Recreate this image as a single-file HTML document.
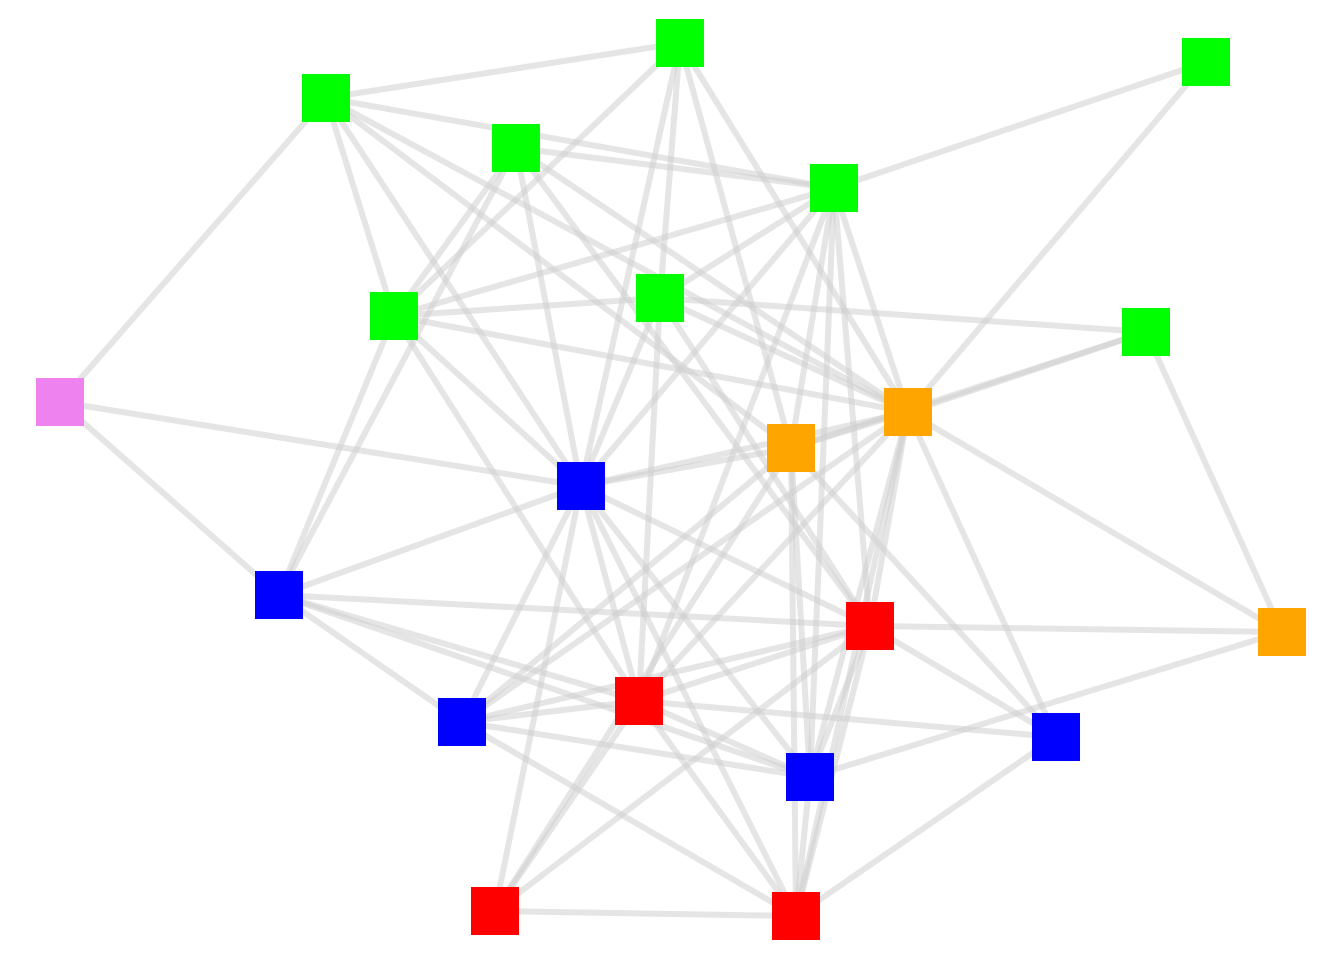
<!DOCTYPE html>
<html><head><meta charset="utf-8"><style>html,body{margin:0;padding:0;background:#fff}svg{display:block}</style></head>
<body>
<svg width="1344" height="960" viewBox="0 0 1344 960" xmlns="http://www.w3.org/2000/svg">
<g stroke="#cfcfcf" stroke-opacity="0.55" stroke-width="6" stroke-linecap="round" id="edges"></g>
<g id="nodes"></g>
<script>
var N={G1:[326,98],G2:[680,43],G3:[1206,62],G4:[516,148],G5:[834,188],G6:[394,316],G7:[660,298],G8:[1146,332],
P:[60,402],O1:[908,412],O2:[791,448],O3:[1282,632],B1:[581,486],B2:[279,595],B3:[462,722],B4:[810,777],B5:[1056,737],
R1:[870,626],R2:[639,701],R3:[495,911],R4:[796,916]};
var C={G:"#00ff00",P:"#ee82ee",O:"#ffa500",B:"#0000ff",R:"#ff0000"};
var E="G1-G2 G1-G5 G1-G6 G1-P G1-B1 G1-O2 G1-O1 G2-G6 G2-G7 G2-B1 G2-O2 G2-O1 G3-G5 G3-O1 G4-G5 G4-G6 G4-B1 G4-O1 G4-R1 G4-B2 G5-G6 G5-G7 G5-B1 G5-O1 G5-O2 G5-R1 G5-B4 G5-R2 G6-G7 G6-O1 G6-B2 G6-B1 G6-R2 G7-G8 G7-O1 G7-B1 G7-R1 G7-R2 G8-O1 G8-O2 G8-O3 P-B1 P-B2 O1-O2 O1-B1 O1-O3 O1-R1 O1-B5 O1-B3 O1-R2 O1-R4 O1-B4 O2-B1 O2-B3 O2-R3 O2-R4 O2-B4 O2-B5 B1-B2 B1-B3 B1-R2 B1-R1 B1-B4 B1-R4 B2-R1 B2-B3 B2-R2 B2-B4 B3-R2 B3-B4 B3-R4 B3-R1 B4-R2 B4-R1 B4-R4 B4-O3 R1-O3 R1-R2 R1-B5 R1-R4 R1-R3 R2-R3 R2-R4 R2-B5 R3-R4 R4-B5 R3-B1".split(" ");
var ns="http://www.w3.org/2000/svg",eg=document.getElementById("edges"),ng=document.getElementById("nodes");
E.forEach(function(e){var p=e.split("-"),a=N[p[0]],b=N[p[1]],l=document.createElementNS(ns,"line");
l.setAttribute("x1",a[0]);l.setAttribute("y1",a[1]);l.setAttribute("x2",b[0]);l.setAttribute("y2",b[1]);eg.appendChild(l);});
for(var k in N){var r=document.createElementNS(ns,"rect");r.setAttribute("x",N[k][0]-24);r.setAttribute("y",N[k][1]-24);
r.setAttribute("width",48);r.setAttribute("height",48);r.setAttribute("fill",C[k[0]]);ng.appendChild(r);}
</script>
</svg>
</body></html>
